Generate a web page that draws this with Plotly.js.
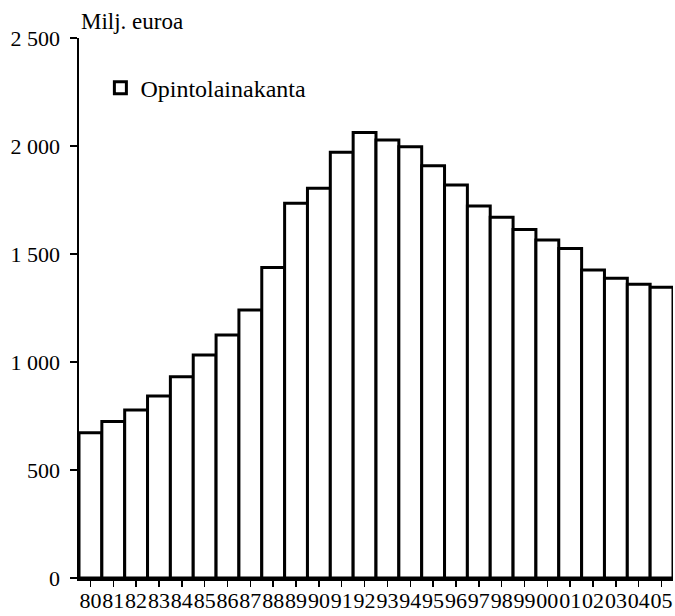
<!DOCTYPE html>
<html>
<head>
<meta charset="utf-8">
<script src="https://cdn.plot.ly/plotly-3.0.1.min.js"></script>
<style>
html,body{margin:0;padding:0;background:#fff;}
#chart{width:675px;height:616px;}
</style>
</head>
<body>
<div id="chart"></div>
<script>
// Years (two-digit labels) and outstanding student loans, million euros
const years = ["80","81","82","83","84","85","86","87","88","89","90","91","92","93","94","95","96","97","98","99","00","01","02","03","04","05"];
const loanStock = [673, 724, 778, 843, 932, 1032, 1125, 1241, 1438, 1735, 1804, 1971, 2062, 2028, 1997, 1909, 1819, 1722, 1670, 1614, 1565, 1525, 1426, 1388, 1360, 1346];
const seriesName = "Opintolainakanta";
const yTickVals = [0, 500, 1000, 1500, 2000, 2500];
const yTickText = ["0", "500", "1 000", "1 500", "2 000", "2 500"];
const yUnit = "Milj. euroa";

const fontFamily = "Liberation Serif";

Plotly.newPlot("chart", [{
  type: "bar",
  x: years,
  y: loanStock,
  name: seriesName,
  showlegend: true,
  cliponaxis: false,
  marker: {color: "#ffffff", line: {color: "#000000", width: 3}}
}], {
  width: 675, height: 616,
  margin: {l: 79, r: 2, t: 38, b: 38},
  paper_bgcolor: "#ffffff", plot_bgcolor: "#ffffff",
  font: {family: fontFamily, size: 22, color: "#000000"},
  bargap: 0,
  showlegend: true,
  legend: {x: 0.036, xanchor: "left", y: 0.907, yanchor: "middle", bgcolor: "rgba(0,0,0,0)", font: {family: fontFamily, size: 24, color: "#000"}},
  xaxis: {
    type: "category", range: [-0.5, 25.5],
    showline: true, linecolor: "#000", linewidth: 3,
    ticks: "outside", ticklen: 6, tickwidth: 1.5, tickcolor: "#000",
    tickangle: 0, tickmode: "array", tickvals: years, ticktext: years,
    tickfont: {family: fontFamily, size: 22, color: "#000"},
    ticklabelstandoff: -5,
    showgrid: false, zeroline: false, fixedrange: true
  },
  yaxis: {
    range: [0, 2500],
    showline: true, linecolor: "#000", linewidth: 2.5,
    ticks: "outside", ticklen: 7, tickwidth: 1.5, tickcolor: "#000",
    tickmode: "array", tickvals: yTickVals, ticktext: yTickText,
    tickfont: {family: fontFamily, size: 22, color: "#000"},
    ticklabelstandoff: 5,
    showgrid: false, zeroline: false, fixedrange: true
  },
  annotations: [{
    text: yUnit, xref: "paper", yref: "paper", x: 0.0, y: 1.03,
    xanchor: "left", yanchor: "middle", showarrow: false,
    font: {family: fontFamily, size: 23, color: "#000"}
  }]
}, {displayModeBar: false, staticPlot: true});
</script>
</body>
</html>
